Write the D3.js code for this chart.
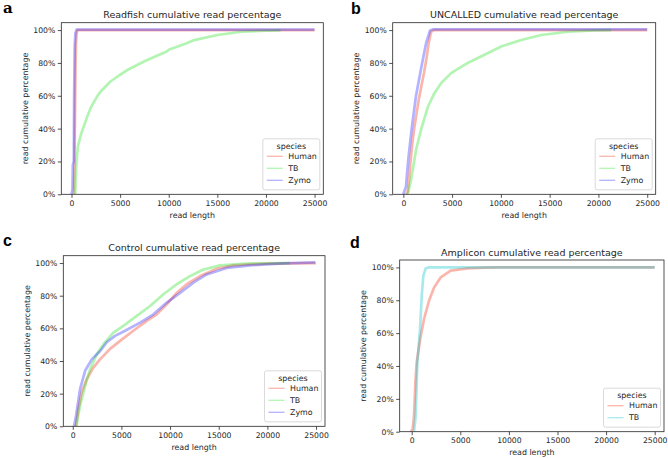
<!DOCTYPE html>
<html><head><meta charset="utf-8">
<script src="https://cdn.jsdelivr.net/npm/d3@7"></script>
<style>
html,body{margin:0;padding:0;background:#fff;}
svg{display:block;font-family:"DejaVu Sans",sans-serif;}
</style></head>
<body>
<script>
// ---------- data ----------
const xTicks = [0, 5000, 10000, 15000, 20000, 25000];
const yTicks = [0, 0.2, 0.4, 0.6, 0.8, 1.0];
const panelLetters = ["a", "b", "c", "d"];
const panelTitles = [
  "Readfish cumulative read percentage",
  "UNCALLED cumulative read percentage",
  "Control cumulative read percentage",
  "Amplicon cumulative read percentage"
];
const speciesNames = ["Human", "TB", "Zymo"];
const ampliconSpecies = ["Human", "TB"];

// [read length, cumulative fraction]
const readfishHuman = [[250,0],[300,0.15],[340,0.4],[380,0.58],[420,0.8],[460,0.92],[530,0.98],[620,1.0],[25000,1.0]];
const readfishTB = [[380,0],[420,0.09],[520,0.2],[650,0.29],[1000,0.37],[1600,0.47],[2000,0.53],[2630,0.595],[3000,0.626],[4000,0.687],[5000,0.728],[5700,0.755],[7500,0.81],[9800,0.87],[10000,0.88],[11850,0.92],[12500,0.937],[15000,0.97],[17500,0.99],[20000,0.996],[21500,0.998]];
const readfishZymo = [[0,0],[100,0.03],[140,0.18],[240,0.2],[270,0.6],[330,0.9],[400,0.98],[520,1.003],[25000,1.003]];

const uncalledHuman = [[300,0],[450,0.016],[600,0.1],[720,0.19],[900,0.3],[1100,0.396],[1350,0.49],[1580,0.575],[1850,0.66],[2120,0.74],[2380,0.83],[2600,0.92],[2840,0.99],[3180,1.0],[25000,1.0]];
const uncalledTB = [[445,0],[600,0.04],[790,0.087],[1050,0.18],[1300,0.27],[1800,0.39],[2500,0.53],[3180,0.616],[3870,0.677],[4900,0.738],[6600,0.8],[8320,0.85],[10030,0.9],[12090,0.94],[14140,0.97],[16880,0.99],[19600,0.998],[21300,1.0]];
const uncalledZymo = [[0,0],[270,0.047],[500,0.21],[850,0.396],[1300,0.6],[1800,0.76],[2330,0.92],[2740,0.998],[3000,1.004],[25000,1.004]];

const controlHuman = [[250,0],[340,0.004],[580,0.106],[920,0.208],[1440,0.29],[2120,0.36],[2800,0.41],[3840,0.474],[4860,0.523],[6230,0.585],[7600,0.646],[8630,0.686],[9660,0.747],[10680,0.817],[11710,0.87],[13080,0.92],[14800,0.965],[16500,0.986],[19930,0.996],[25000,1.0]];
const controlTB = [[300,0],[410,0.014],[750,0.126],[1270,0.248],[1780,0.35],[2470,0.442],[3150,0.503],[4180,0.574],[5200,0.615],[6580,0.676],[7950,0.737],[9320,0.809],[10680,0.87],[12050,0.92],[13420,0.96],[15140,0.986],[18220,0.998],[22300,1.0]];
const controlZymo = [[137,0],[340,0.065],[750,0.228],[1270,0.34],[1950,0.41],[2800,0.46],[3500,0.515],[4350,0.554],[5380,0.585],[6920,0.635],[8290,0.686],[9660,0.758],[11030,0.817],[12400,0.88],[13760,0.93],[15820,0.97],[18220,0.986],[21640,0.998],[24900,1.004]];

const ampliconHuman = [[-100,0],[100,0.016],[240,0.097],[380,0.3],[510,0.42],[860,0.56],[1270,0.686],[1780,0.797],[2300,0.878],[2980,0.939],[4010,0.98],[5730,0.994],[7440,0.998],[9160,1.0],[25000,1.0]];
const ampliconTB = [[240,0],[410,0.097],[580,0.42],[860,0.625],[1030,0.828],[1200,0.95],[1440,0.994],[1780,1.0],[25000,1.0]];

// ---------- styles ----------
const colorOf = {Human:"#f02a10", TB:"#1fe01f", Zymo:"#2020ff", TBamp:"#00c0c8"};
const lineOpacity = 0.34;

const W = 668, H = 458;
const svg = d3.select("body").append("svg").attr("width", W).attr("height", H);

const panels = [
  {box:[61.3,323.3,22.7,194.3], xd:[-1050,25900], series:[["Human",readfishHuman],["TB",readfishTB],["Zymo",readfishZymo]], letter:[3,13,"serif"], legend:speciesNames},
  {box:[392.7,655.7,22.7,194.3], xd:[-1090,25870], series:[["Human",uncalledHuman],["TB",uncalledTB],["Zymo",uncalledZymo]], letter:[351,14,"sans"], legend:speciesNames},
  {box:[63.3,325,255.7,426.3], xd:[-970,25920], series:[["Human",controlHuman],["TB",controlTB],["Zymo",controlZymo]], letter:[3,246,"sans"], legend:speciesNames},
  {box:[399.7,664,260,431.7], xd:[-1235,25957], series:[["Human",ampliconHuman],["TBamp",ampliconTB]], letter:[350,248,"sans"], legend:ampliconSpecies}
];

panels.forEach((p, i) => {
  const [L, R, T, B] = p.box;
  const x = d3.scaleLinear().domain(p.xd).range([L, R]);
  const y = d3.scaleLinear().domain([0, 1.045]).range([B, T]);
  const g = svg.append("g");

  const line = d3.line().x(d => x(d[0])).y(d => y(d[1]));
  const clipId = "clip" + i;
  svg.append("clipPath").attr("id", clipId).append("rect").attr("x", L).attr("y", T).attr("width", R - L).attr("height", B - T);
  p.series.forEach(([name, data]) => {
    g.append("path").datum(data).attr("d", line)
      .attr("fill", "none").attr("stroke", colorOf[name]).attr("stroke-opacity", lineOpacity)
      .attr("stroke-width", 2.7).attr("stroke-linejoin", "round")
      .attr("clip-path", `url(#${clipId})`);
  });

  const xAxis = d3.axisBottom(x).tickValues(xTicks).tickSize(3.5).tickPadding(2.5).tickFormat(d3.format("d"));
  const yAxis = d3.axisLeft(y).tickValues(yTicks).tickSize(3.5).tickPadding(2.5).tickFormat(d => Math.round(d * 100) + "%");
  const gx = g.append("g").attr("transform", `translate(0,${B})`).call(xAxis);
  const gy = g.append("g").attr("transform", `translate(${L},0)`).call(yAxis);
  [gx, gy].forEach(a => {
    a.select(".domain").remove();
    a.selectAll("line").attr("stroke", "#262626").attr("stroke-width", 0.8);
    a.selectAll("text").attr("fill", "#262626").style("font-size", "7.7px").style("font-family", "DejaVu Sans");
  });
  g.append("rect").attr("x", L).attr("y", T).attr("width", R - L).attr("height", B - T)
    .attr("fill", "none").attr("stroke", "#262626").attr("stroke-width", 0.8);

  g.append("text").attr("x", (L + R) / 2).attr("y", T - 4.5).attr("text-anchor", "middle")
    .style("font-size", "9.5px").attr("fill", "#262626").text(panelTitles[i]);
  g.append("text").attr("x", (L + R) / 2).attr("y", B + 23.5).attr("text-anchor", "middle")
    .style("font-size", "7.9px").attr("fill", "#262626").text("read length");
  g.append("text").attr("transform", `translate(${L - 33.5},${(T + B) / 2}) rotate(-90)`).attr("text-anchor", "middle")
    .style("font-size", "7.9px").attr("fill", "#262626").text("read cumulative percentage");

  const [lx, ly, lf] = p.letter;
  g.append("text").attr("x", lx).attr("y", ly)
    .style("font-family", lf === "serif" ? "DejaVu Serif" : "Liberation Sans")
    .style("font-weight", "bold").style("font-size", lf === "serif" ? "15px" : "16px")
    .attr("fill", "#000").text(panelLetters[i]);

  const n = p.legend.length;
  const lw = 57, lh = 13 + n * 12 + 2;
  const lxx = R - 3.5 - lw, lyy = B - 4.5 - lh;
  const lg = g.append("g").attr("transform", `translate(${lxx},${lyy})`);
  lg.append("rect").attr("width", lw).attr("height", lh).attr("rx", 2)
    .attr("fill", "#fff").attr("fill-opacity", 0.8).attr("stroke", "#d0d0d0").attr("stroke-width", 0.8);
  lg.append("text").attr("x", lw / 2).attr("y", 10).attr("text-anchor", "middle")
    .style("font-size", "7.9px").attr("fill", "#262626").text("species");
  p.series.forEach(([name], k) => {
    const yy = 17.5 + k * 12;
    lg.append("line").attr("x1", 4).attr("x2", 20).attr("y1", yy).attr("y2", yy)
      .attr("stroke", colorOf[name]).attr("stroke-opacity", lineOpacity).attr("stroke-width", 1.3);
    lg.append("text").attr("x", 25.5).attr("y", yy + 2.8)
      .style("font-size", "7.9px").attr("fill", "#262626").text(p.legend[k]);
  });
});
</script>
</body></html>
